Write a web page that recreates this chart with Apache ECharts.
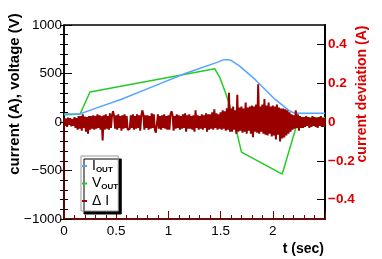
<!DOCTYPE html>
<html>
<head>
<meta charset="utf-8">
<script src="https://cdn.jsdelivr.net/npm/echarts@6/dist/echarts.min.js"></script>
<style>html,body{margin:0;padding:0;background:#fff}#c{width:382px;height:259px}</style>
</head>
<body>
<div id="c"></div>
<script>
// I_OUT (A) vs t (sec)
const iOutT = [0, 0.15, 0.28, 0.55, 0.85, 1.16, 1.46, 1.52, 1.56, 1.6, 1.68, 1.83, 2.02, 2.16, 2.2, 2.25, 2.5];
const iOutV = [82, 82, 133, 235, 365, 500, 612, 638, 643, 636, 578, 439, 235, 115, 95, 89, 89];
// V_OUT (V) vs t (sec)
const vOutT = [0, 0.153, 0.249, 1.445, 1.493, 1.541, 1.589, 1.614, 1.64, 1.70, 2.09, 2.227, 2.26, 2.5];
const vOutV = [75, 80, 309, 548, 457, 320, 167, 65, -38, -310, -537, -38, 45, 45];
// Delta I (A), sampled every 0.01 s from t = 0
const dIStart = 0, dIStep = 0.01;
const dIV = [
 0.02,-0.02,0.018,-0.025,0.022,-0.015,0.02,-0.022,0.015,-0.02,
 0.025,-0.03,0.02,-0.04,0.03,-0.035,0.03,-0.045,0.04,-0.03,
 0.028,-0.05,0.025,-0.06,0.03,-0.04,0.03,-0.035,0.035,-0.04,
 0.03,-0.035,0.04,-0.03,0.035,-0.04,0.03,-0.095,0.035,-0.04,
 0.04,-0.035,0.03,-0.04,0.045,-0.03,0.035,0.055,0.03,-0.035,
 0.035,-0.04,0.04,-0.03,0.03,-0.045,0.035,-0.035,0.04,-0.03,
 0.03,-0.04,-0.05,-0.035,0.035,-0.03,0.04,-0.04,0.03,-0.035,
 0.04,-0.03,0.035,-0.045,0.03,0.06,0.04,-0.04,0.035,-0.03,
 0.035,-0.04,0.03,-0.035,0.045,-0.03,0.04,-0.04,-0.055,-0.05,
 0.04,-0.035,0.03,-0.04,0.035,-0.03,0.04,-0.035,0.03,-0.04,
 0.035,-0.04,0.04,0.055,0.035,-0.045,0.03,-0.035,0.04,-0.03,
 0.035,-0.04,0.03,-0.035,0.04,-0.03,0.045,-0.05,0.035,-0.035,
 0.04,-0.035,0.03,-0.04,0.035,-0.05,0.06,-0.03,0.035,-0.04,
 0.03,-0.035,0.04,-0.04,0.035,-0.03,0.045,-0.05,0.04,-0.04,
 0.04,-0.035,0.05,-0.04,0.065,-0.03,0.045,-0.04,0.04,-0.035,
 0.05,-0.04,0.06,-0.035,0.055,-0.045,0.07,-0.04,0.15,-0.05,
 0.07,-0.05,0.08,-0.04,0.06,-0.06,0.14,-0.05,0.075,-0.045,
 0.08,-0.055,0.07,-0.05,0.1,-0.06,0.075,-0.045,0.08,-0.06,
 0.085,-0.078,0.08,-0.05,0.09,-0.055,0.195,-0.06,0.08,-0.05,
 0.09,-0.06,0.118,-0.065,0.085,-0.07,0.1,-0.06,0.08,-0.075,
 0.085,-0.07,0.08,-0.09,0.09,-0.065,0.075,-0.1,0.07,-0.085,
 0.07,-0.08,0.065,-0.07,0.06,-0.06,0.05,-0.05,0.04,-0.04,
 0.035,-0.035,0.06,-0.03,0.04,-0.045,0.03,-0.03,0.025,-0.03,
 0.025,-0.025,0.03,-0.02,0.025,-0.03,0.02,-0.025,0.03,-0.02,
 0.025,-0.025,0.02,-0.03,0.025,-0.02,0.03,-0.025,0.02,-0.025,
 0.02
];
const xTicks = [0, 0.5, 1, 1.5, 2];
const leftTicks = [-1000, -500, 0, 500, 1000];
const rightTicks = [-0.4, -0.2, 0, 0.2, 0.4];

const FONT = 'Liberation Sans';
const RED = '#dd0000';
const DARKRED = '#990000';
const minus = s => String(s).replace('-', '\u2212');

const chart = echarts.init(document.getElementById('c'), null, {renderer: 'canvas'});
chart.setOption({
  animation: false,
  backgroundColor: '#fff',
  grid: {left: 64, right: 57, top: 25, bottom: 40, show: true, borderColor: '#000', borderWidth: 1.5, backgroundColor: 'transparent'},
  xAxis: {
    type: 'value', min: 0, max: 2.5, interval: 0.5,
    axisLine: {show: true, onZero: false, lineStyle: {color: '#7a0000', width: 1.5}},
    axisTick: {inside: true, length: 8, lineStyle: {color: '#7a0000'}},
    minorTick: {show: true, splitNumber: 5, length: 4, lineStyle: {color: '#7a0000'}},
    splitLine: {show: false},
    axisLabel: {margin: 5, fontFamily: FONT, fontSize: 13.5, color: '#000', customValues: xTicks}
  },
  yAxis: [
    {
      type: 'value', min: -1000, max: 1000, interval: 500, position: 'left',
      axisLine: {show: true, onZero: false, lineStyle: {color: '#000', width: 1.5}},
      axisTick: {inside: true, length: 8, lineStyle: {color: '#000'}},
      minorTick: {show: true, splitNumber: 5, length: 4, lineStyle: {color: '#000'}},
      splitLine: {show: false},
      axisLabel: {margin: 2, fontFamily: FONT, fontSize: 13.5, color: '#000', formatter: v => minus(v),
        customValues: leftTicks}
    },
    {
      type: 'value', min: -0.5, max: 0.5, interval: 0.05, position: 'right',
      axisLine: {show: true, onZero: false, lineStyle: {color: '#000', width: 2}},
      axisTick: {inside: true, length: 8, lineStyle: {color: '#000'}, customValues: rightTicks},
      splitLine: {show: false},
      axisLabel: {margin: 3, fontFamily: FONT, fontSize: 13.5, fontWeight: 'bold', color: RED,
        formatter: v => minus(v), customValues: rightTicks}
    },
    {
      type: 'value', min: -0.5, max: 0.5, interval: 0.05, position: 'right',
      axisLine: {show: false},
      axisTick: {inside: true, length: 4, lineStyle: {color: '#000'}},
      splitLine: {show: false},
      axisLabel: {show: false}
    }
  ],
  legend: {
    orient: 'vertical', left: 81, top: 156,
    padding: [3, 0, 3, 1], itemGap: 3, itemWidth: 5, itemHeight: 2, icon: 'rect',
    backgroundColor: '#fff', borderColor: '#999', borderWidth: 1,
    shadowColor: '#000', shadowBlur: 0, shadowOffsetX: 3, shadowOffsetY: 3,
    data: ['I_OUT', 'V_OUT', '\u0394 I'],
    formatter: name => {
      if (name === 'I_OUT') return '{m|I}{s|OUT}';
      if (name === 'V_OUT') return '{m|V}{s|OUT}';
      return '{m|' + name + '}';
    },
    textStyle: {
      fontFamily: FONT, color: '#000',
      rich: {
        m: {fontFamily: FONT, fontSize: 14, lineHeight: 15, color: '#000'},
        s: {fontFamily: FONT, fontSize: 8, fontWeight: 'bold', lineHeight: 15, verticalAlign: 'bottom', padding: [5, 0, 0, 0], color: '#000'}
      }
    }
  },
  series: [
    {
      name: 'V_OUT', type: 'line', yAxisIndex: 0, showSymbol: false, symbol: 'none',
      lineStyle: {color: '#22cc22', width: 1.5}, itemStyle: {color: '#22cc22'},
      data: vOutT.map((t, i) => [t, vOutV[i]]), z: 2
    },
    {
      name: 'I_OUT', type: 'line', yAxisIndex: 0, showSymbol: false, symbol: 'none',
      lineStyle: {color: '#55a5ff', width: 1.5}, itemStyle: {color: '#55a5ff'},
      data: iOutT.map((t, i) => [t, iOutV[i]]), z: 3
    },
    {
      name: '\u0394 I', type: 'line', yAxisIndex: 1, showSymbol: false, symbol: 'none',
      sampling: false,
      lineStyle: {color: DARKRED, width: 2, join: 'bevel'}, itemStyle: {color: DARKRED},
      data: dIV.map((v, i) => [+(dIStart + i * dIStep).toFixed(2), v]), z: 4,
      markLine: {silent: true, symbol: 'none', label: {show: false},
        lineStyle: {color: '#7a0000', width: 1.5, type: 'solid'},
        data: [[{coord: [0, -0.5]}, {coord: [0, 0]}]]}
    }
  ],
  graphic: [
    {type: 'text', x: 15, y: 94, rotation: Math.PI / 2,
      style: {text: 'current (A), voltage (V)', font: 'bold 15px "Liberation Sans"', fill: '#000', align: 'center', verticalAlign: 'middle'}},
    {type: 'text', x: 362, y: 94, rotation: Math.PI / 2,
      style: {text: 'current deviation (A)', font: 'bold 14px "Liberation Sans"', fill: RED, align: 'center', verticalAlign: 'middle'}},
    {type: 'text', x: 324, y: 249,
      style: {text: 't (sec)', font: 'bold 14px "Liberation Sans"', fill: '#000', align: 'right', verticalAlign: 'middle'}}
  ]
});
</script>
</body>
</html>
